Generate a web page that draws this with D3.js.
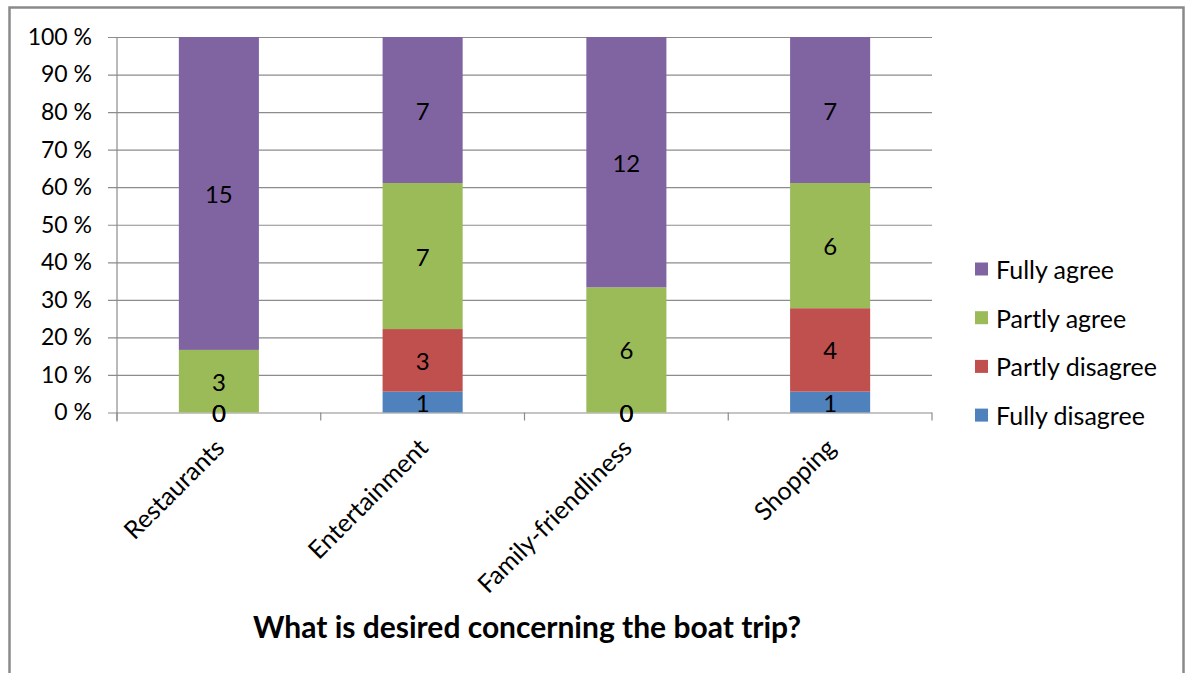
<!DOCTYPE html>
<html>
<head>
<meta charset="utf-8">
<script src="https://cdn.jsdelivr.net/npm/d3@7"></script>
<style>
  html, body { margin: 0; padding: 0; background: #fff; }
  svg { display: block; }
  text { font-family: Lato, "Open Sans", sans-serif; fill: #000; }
</style>
</head>
<body>
<svg id="chart" width="1186" height="673"></svg>
<script>
// Survey answers per topic (counts of respondents)
const categories = ["Restaurants", "Entertainment", "Family-friendliness", "Shopping"];
const seriesNames = ["Fully disagree", "Partly disagree", "Partly agree", "Fully agree"];
const fullyDisagree = [0, 1, 0, 1];
const partlyDisagree = [0, 3, 0, 4];
const partlyAgree = [3, 7, 6, 6];
const fullyAgree = [15, 7, 12, 7];
const yTickValues = [0, 0.1, 0.2, 0.3, 0.4, 0.5, 0.6, 0.7, 0.8, 0.9, 1.0];
const seriesColors = ["#4F81BD", "#C0504D", "#9BBB59", "#8064A2"];
const chartTitle = "What is desired concerning the boat trip?";

const seriesValues = [fullyDisagree, partlyDisagree, partlyAgree, fullyAgree];
const rows = categories.map((c, i) => {
  const r = { category: c };
  seriesNames.forEach((s, k) => { r[s] = seriesValues[k][i]; });
  return r;
});

const svg = d3.select("#chart");

// Outer chart frame (open at the bottom edge of the window)
svg.append("rect")
  .attr("x", 9.5).attr("y", 7.5)
  .attr("width", 1174).attr("height", 700)
  .attr("fill", "none").attr("stroke", "#8a8a8a").attr("stroke-width", 2.5);

const plot = { left: 117, right: 932, top: 37, bottom: 412.5 };

const x = d3.scaleBand()
  .domain(categories)
  .range([plot.left, plot.right])
  .paddingInner(0.607)
  .paddingOuter(0.3035);

const y = d3.scaleLinear().domain([0, 1]).range([plot.bottom, plot.top]);

const color = d3.scaleOrdinal().domain(seriesNames).range(seriesColors);

// Y axis with gridlines
const yAxis = d3.axisLeft(y)
  .tickValues(yTickValues)
  .tickFormat(d => Math.round(d * 100) + " %")
  .tickSizeInner(0)
  .tickSizeOuter(0)
  .tickPadding(25);

const gy = svg.append("g").attr("transform", `translate(${plot.left},0)`).call(yAxis);
gy.select(".domain").remove();
gy.selectAll(".tick line")
  .attr("x1", -9).attr("x2", plot.right - plot.left)
  .attr("stroke", "#8c8c8c").attr("stroke-width", 1.2);
gy.selectAll(".tick text")
  .attr("font-family", "Lato, 'Open Sans', sans-serif")
  .attr("font-size", 23).attr("fill", "#000");

// Vertical axis line
svg.append("line")
  .attr("x1", plot.left).attr("x2", plot.left)
  .attr("y1", plot.top).attr("y2", plot.bottom + 9)
  .attr("stroke", "#8c8c8c").attr("stroke-width", 1.2);

// Category boundary ticks on the x axis
const step = x.step();
d3.range(categories.length + 1).forEach(k => {
  const xx = plot.left + k * step;
  svg.append("line")
    .attr("x1", xx).attr("x2", xx)
    .attr("y1", plot.bottom).attr("y2", plot.bottom + 8)
    .attr("stroke", "#8c8c8c").attr("stroke-width", 1.2);
});

// Stacked 100% bars
const stack = d3.stack().keys(seriesNames).offset(d3.stackOffsetExpand);
const layers = stack(rows);

const layerG = svg.append("g").selectAll("g")
  .data(layers).join("g")
  .attr("fill", d => color(d.key));

layerG.selectAll("rect")
  .data(d => d)
  .join("rect")
  .attr("x", d => x(d.data.category))
  .attr("width", x.bandwidth())
  .attr("y", d => y(d[1]))
  .attr("height", d => y(d[0]) - y(d[1]));

// Value labels centred in each segment
const labelG = svg.append("g");
layers.forEach(layer => {
  layer.forEach(d => {
    labelG.append("text")
      .attr("x", x(d.data.category) + x.bandwidth() / 2)
      .attr("y", y((d[0] + d[1]) / 2))
      .attr("text-anchor", "middle")
      .attr("dominant-baseline", "central")
      .attr("font-size", 24)
      .text(d.data[layer.key]);
  });
});

// Category labels, rotated
const xAxis = d3.axisBottom(x).tickSize(0).tickPadding(0);
const gx = svg.append("g").attr("transform", `translate(0,${plot.bottom})`).call(xAxis);
gx.select(".domain").remove();
gx.selectAll(".tick text")
  .attr("font-family", "Lato, 'Open Sans', sans-serif")
  .attr("font-size", 25)
  .attr("fill", "#000")
  .attr("text-anchor", "end")
  .attr("dy", null)
  .attr("y", 0)
  .attr("transform", "translate(7,37) rotate(-45)");

// Title
svg.append("text")
  .attr("x", 527).attr("y", 638)
  .attr("text-anchor", "middle")
  .attr("font-size", 30)
  .attr("font-weight", "bold")
  .text(chartTitle);

// Legend (top entry is the last series)
const legendOrder = seriesNames.slice().reverse();
const legend = svg.append("g");
legendOrder.forEach((s, i) => {
  const cy = 269 + i * 48.7;
  legend.append("rect")
    .attr("x", 975).attr("y", cy - 6.5)
    .attr("width", 13).attr("height", 13)
    .attr("fill", color(s));
  legend.append("text")
    .attr("x", 996).attr("y", cy)
    .attr("dominant-baseline", "central")
    .attr("font-size", 25)
    .text(s);
});
</script>
</body>
</html>
